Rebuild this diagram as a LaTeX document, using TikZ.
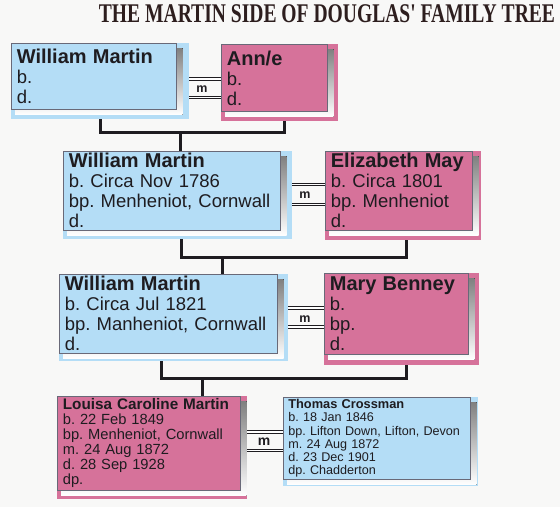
\documentclass[tikz,border=0pt]{standalone}
\usepackage{fontspec}
\setmainfont{Liberation Sans}
\newfontfamily\titlefont{Liberation Serif}
\usetikzlibrary{backgrounds}
\frenchspacing

\definecolor{blueface}{RGB}{180,221,246}
\definecolor{pinkface}{RGB}{214,114,154}
\definecolor{boxline}{RGB}{105,105,120}
\definecolor{shade}{RGB}{150,150,165}
\definecolor{ink}{RGB}{30,28,32}
\definecolor{paper}{RGB}{248,248,247}
\definecolor{titleink}{RGB}{45,30,30}

\newcommand\who[2]{{\fontsize{#1}{#1}\selectfont\bfseries #2}}
\newcommand\boxback[4]{%
  \fill[#2] (#1.north west) rectangle ([shift={(#3,#4)}]#1.south east);
  \fill[shade] ([shift={(4,5)}]#1.north west) rectangle ([shift={(6,5)}]#1.south east);}

\begin{document}
\begin{tikzpicture}[x=1pt,y=-1pt,
  person/.style={draw=boxline, line width=0.7pt, anchor=north west, align=left,
    inner xsep=5.5pt, inner ysep=2pt, text=ink},
  male/.style={person, fill=blueface},
  female/.style={person, fill=pinkface},
  rowbig/.style={font=\fontsize{18.5}{20}\selectfont},
  rowmid/.style={font=\fontsize{14.7}{15}\selectfont},
  rowsmall/.style={font=\fontsize{12.6}{13.2}\selectfont},
  famline/.style={draw=ink, line width=3pt},
  wed/.style={draw=ink, double=white, line width=0.9pt, double distance=1.4pt},
  wedtag/.style={font=\fontsize{12.5}{12.5}\selectfont\bfseries, text=ink, inner sep=0pt}]

  \useasboundingbox (0,0) rectangle (560,507);

  \node (title) [font=\titlefont\bfseries\fontsize{27}{27}\selectfont, text=titleink] at (327,14)
    {\scalebox{0.725}[1]{THE MARTIN SIDE OF DOUGLAS' FAMILY TREE}};

  \node (wm1) [male, rowbig, text width=154pt, minimum height=66pt] at (11,43)
    {\who{20}{William Martin}\\ b.\\ d.};
  \node (anne) [female, rowbig, text width=95pt, minimum height=67pt] at (221,44)
    {\who{20}{Ann/e}\\ b.\\ d.};

  \node (wm2) [male, rowbig, text width=206pt, minimum height=78pt] at (63,151)
    {\who{20}{William Martin}\\ b. Circa Nov 1786\\ bp. Menheniot, Cornwall\\ d.};
  \node (eliz) [female, rowbig, text width=136pt, minimum height=77pt] at (325,151)
    {\who{20}{Elizabeth May}\\ b. Circa 1801\\ bp. Menheniot\\ d.};

  \node (wm3) [male, rowbig, text width=207pt, minimum height=78pt] at (59,274)
    {\who{20}{William Martin}\\ b. Circa Jul 1821\\ bp. Manheniot, Cornwall\\ d.};
  \node (mary) [female, rowbig, text width=133pt, minimum height=81pt] at (324,273)
    {\who{20}{Mary Benney}\\ b.\\ bp.\\ d.};

  \node (louisa) [female, rowmid, text width=172pt, minimum height=94pt] at (57,396)
    {\who{15.3}{Louisa Caroline Martin}\\ b. 22 Feb 1849\\ bp. Menheniot, Cornwall\\ m. 24 Aug 1872\\ d. 28 Sep 1928\\ dp.};
  \node (thomas) [male, rowsmall, inner xsep=5pt, text width=177pt, minimum height=82pt] at (283,397)
    {\who{12.8}{Thomas Crossman}\\ b. 18 Jan 1846\\ bp. Lifton Down, Lifton, Devon\\ m. 24 Aug 1872\\ d. 23 Dec 1901\\ dp. Chadderton};

  \node (m1) [wedtag] at (202,89) {m};
  \node (m2) [wedtag] at (305,195) {m};
  \node (m3) [wedtag] at (305,319) {m};
  \node (m4) [wedtag, font=\fontsize{14}{14}\selectfont\bfseries] at (264,442) {m};

  \coordinate (j1) at (180,132);
  \coordinate (j2) at (222,257);
  \coordinate (j3) at (202,378);

  \begin{scope}[on background layer]
    \fill[paper] (0,0) rectangle (560,507);

    \draw[famline] ([xshift=6.5pt]wm1.south) |- (j1) -| ([xshift=10pt]anne.south);
    \draw[famline] (j1) -- (j1 |- wm2.north);
    \draw[famline] ([xshift=9.5pt]wm2.south) |- (j2) -| ([xshift=7.5pt]eliz.south);
    \draw[famline] (j2) -- (j2 |- wm3.north);
    \draw[famline] ([xshift=-7pt]wm3.south) |- (j3) -| ([xshift=10pt]mary.south);
    \draw[famline] (j3) -- (j3 |- louisa.north);

    \draw[wed] (wm1.east |- 0,79) -- (anne.west |- 0,79);
    \draw[wed] (wm1.east |- 0,97.5) -- (anne.west |- 0,97.5);
    \draw[wed] (wm2.east |- 0,184.5) -- (eliz.west |- 0,184.5);
    \draw[wed] (wm2.east |- 0,204.5) -- (eliz.west |- 0,204.5);
    \draw[wed] (wm3.east |- 0,308) -- (mary.west |- 0,308);
    \draw[wed] (wm3.east |- 0,327) -- (mary.west |- 0,327);
    \draw[wed] (louisa.east |- 0,432) -- (thomas.west |- 0,432);
    \draw[wed] (louisa.east |- 0,450.5) -- (thomas.west |- 0,450.5);

    \boxback{wm1}{blueface}{12}{9}
    \boxback{anne}{pinkface}{10}{9}
    \boxback{wm2}{blueface}{11}{9}
    \boxback{eliz}{pinkface}{8}{10}
    \boxback{wm3}{blueface}{10}{8}
    \boxback{mary}{pinkface}{10}{10}
    \boxback{louisa}{pinkface}{6}{8}
    \boxback{thomas}{blueface}{7}{6}
  \end{scope}

\end{tikzpicture}
\end{document}
